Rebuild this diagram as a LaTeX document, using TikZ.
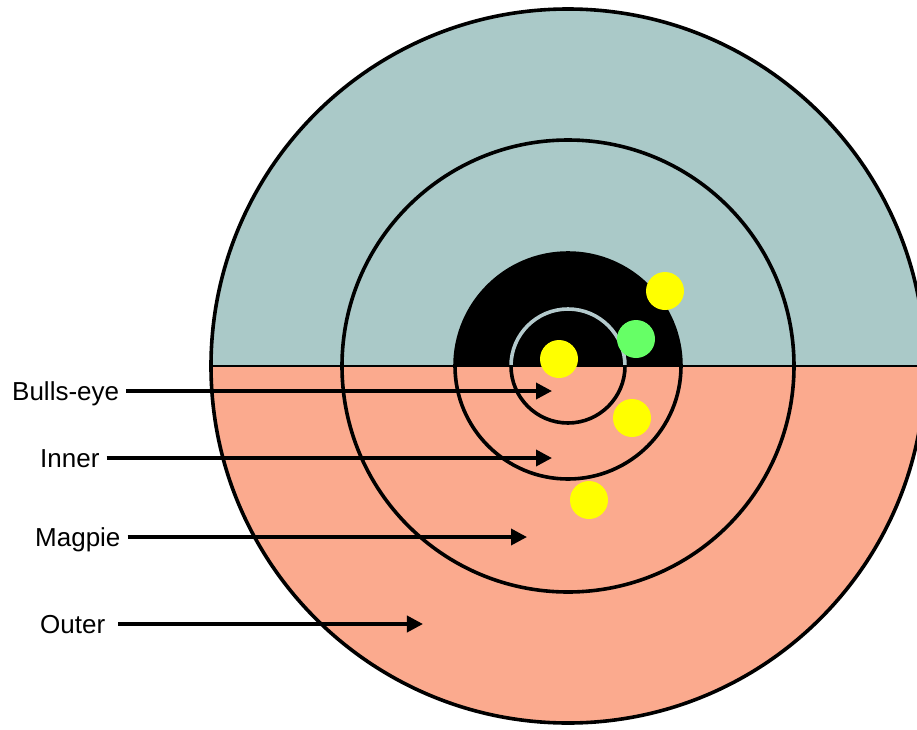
\documentclass[tikz,border=0pt]{standalone}
\usepackage{fontspec}
\setmainfont{Liberation Sans}
\usetikzlibrary{arrows.meta}
\definecolor{upperband}{HTML}{AAC9C8}
\definecolor{lowerband}{HTML}{FBAA8E}
\definecolor{shotyellow}{HTML}{FFFF00}
\definecolor{shotgreen}{HTML}{66FF66}
\definecolor{bullrim}{HTML}{B4CACD}
\tikzset{
  ring/.style={line width=3.6pt},
  shot/.style={circle, inner sep=0pt, minimum size=38pt},
  zonelabel/.style={anchor=west, inner sep=0pt, font=\fontsize{26}{30}\selectfont,
    text height=18.6pt, text depth=0pt},
  pointer/.style={line width=3.6pt, -{Triangle[length=16pt,width=16pt]}, shorten <=7pt}
}
\begin{document}
\begin{tikzpicture}[x=1pt,y=1pt]
    \clip (-568,-363) rectangle (349,366);

    % Target halves
    \fill[upperband] (-357,0) arc (180:0:357) -- cycle;
    \fill[lowerband] (-357,0) arc (180:360:357) -- cycle;
    \fill[black] (-113,0) arc (180:0:113) -- cycle;

    % Rings
    \draw[ring, bullrim] (-57,0) arc (180:0:57);
    \draw[ring] (-57,0) arc (180:360:57);
    \draw[ring] (0,0) circle (113);
    \draw[ring] (0,0) circle (226);
    \draw[ring] (0,0) circle (357);
    \draw[line width=2pt] (-357,0) -- (349,0);

    % Shots
    \node[shot, fill=shotyellow] (shotA) at (97,75) {};
    \node[shot, fill=shotyellow] (shotB) at (-9,7) {};
    \node[shot, fill=shotgreen] (shotC) at (68,27) {};
    \node[shot, fill=shotyellow] (shotD) at (64,-52) {};
    \node[shot, fill=shotyellow] (shotE) at (21,-134) {};

    % Zone labels
    \node[zonelabel] (bulls) at (-556,-25) {Bulls-eye};
    \coordinate (bullstip) at (-16,-25);
    \draw[pointer] (bulls.east) -- (bullstip);

    \node[zonelabel] (inner) at (-528,-92) {Inner};
    \coordinate (innertip) at (-16,-92);
    \draw[pointer] (inner.east) -- (innertip);

    \node[zonelabel] (magpie) at (-533,-171) {Magpie};
    \coordinate (magpietip) at (-41,-171);
    \draw[pointer] (magpie.east) -- (magpietip);

    \node[zonelabel] (outer) at (-528,-258) {Outer};
    \coordinate (outertip) at (-145,-258);
    \draw[pointer, shorten <=13pt] (outer.east) -- (outertip);
\end{tikzpicture}
\end{document}
